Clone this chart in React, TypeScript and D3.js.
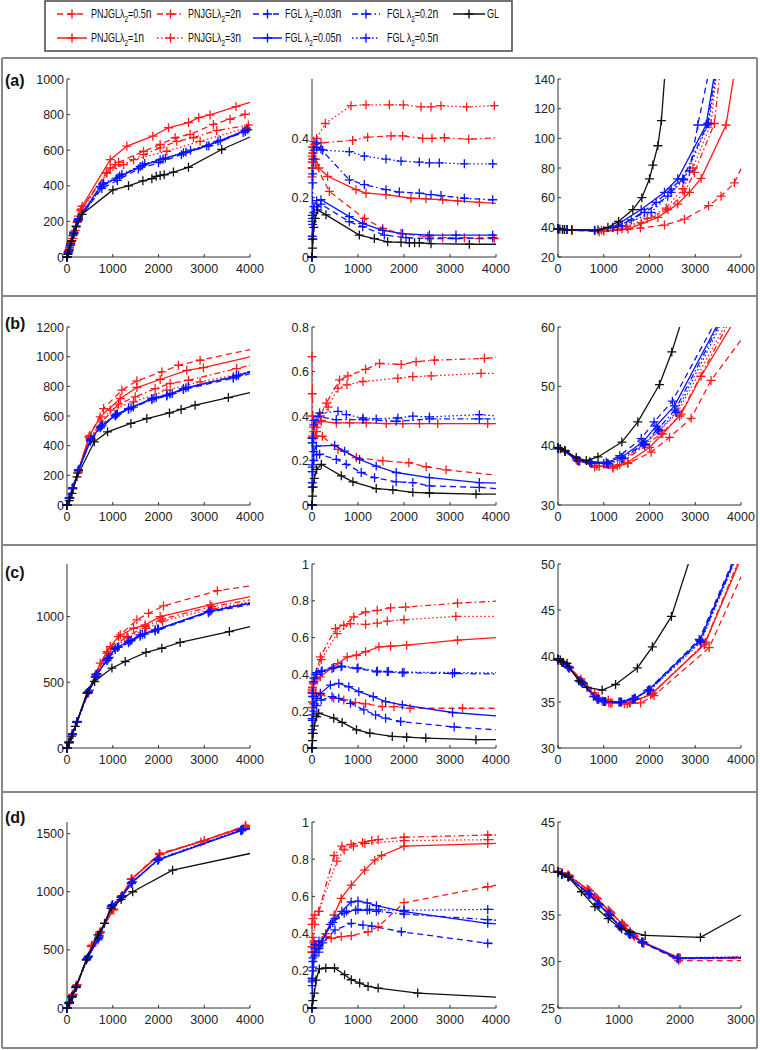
import React from 'react';
import * as d3 from 'd3';

type Pt = [number, number];

// ---------- series meta ----------
const seriesKeys = ['pn05', 'pn1', 'pn2', 'pn3', 'f003', 'f005', 'f02', 'f05', 'gl'];
const legendPrefix = ['PNJGL', 'PNJGL', 'PNJGL', 'PNJGL', 'FGL ', 'FGL ', 'FGL ', 'FGL ', 'GL'];
const legendValue = ['=0.5', '=1', '=2', '=3', '=0.03', '=0.05', '=0.2', '=0.5', ''];
const seriesColor = ['#ff1a1a', '#ff1a1a', '#ff1a1a', '#ff1a1a', '#0a14ff', '#0a14ff', '#0a14ff', '#0a14ff', '#111111'];
const seriesDash = ['6,4', '', '6,3,1.5,3', '1.5,2.5', '6,4', '', '6,3,1.5,3', '1.5,2.5', ''];

// ---------- row (a) ----------
const a1_pn05: Pt[] = [[0,0],[40,35],[100,90],[180,150],[300,265],[858,472],[1055,519],[1127,532],[1673,594],[2036,632],[2364,670],[2691,689],[3200,745],[3564,774],[3891,802],[4000,810]];
const a1_pn1: Pt[] = [[0,0],[30,30],[80,80],[150,140],[250,230],[330,285],[945,547],[1309,623],[1876,679],[2218,726],[2655,755],[2880,783],[3127,798],[3694,845],[4000,868]];
const a1_pn2: Pt[] = [[0,0],[40,35],[100,90],[200,175],[320,270],[945,500],[1236,519],[1673,575],[2036,613],[2400,650],[2764,670],[3273,711],[3964,741],[4000,743]];
const a1_pn3: Pt[] = [[0,0],[50,45],[120,105],[220,195],[310,260],[873,472],[1455,547],[2182,594],[2909,650],[3927,725],[4000,730]];
const a1_f003: Pt[] = [[0,0],[30,28],[80,72],[150,135],[250,210],[760,385],[1100,430],[1560,495],[2000,530],[2500,575],[3100,625],[3850,700],[4000,712]];
const a1_f005: Pt[] = [[0,0],[30,30],[80,75],[150,140],[250,215],[727,396],[1091,443],[1600,509],[2036,547],[2545,585],[3055,623],[3891,711],[4000,723]];
const a1_f02: Pt[] = [[0,0],[25,25],[70,65],[140,130],[240,205],[780,405],[1150,455],[1650,515],[2100,550],[2600,590],[3300,650],[3900,705],[4000,715]];
const a1_f05: Pt[] = [[0,0],[20,20],[60,55],[130,120],[230,200],[800,415],[1200,465],[1700,525],[2150,555],[2700,600],[3350,655],[3950,715],[4000,720]];
const a1_gl: Pt[] = [[0,0],[20,15],[50,40],[100,90],[150,130],[200,170],[330,240],[1003,377],[1345,400],[1658,428],[1855,440],[1950,453],[2036,458],[2124,462],[2327,477],[2655,504],[3382,604],[4000,674]];

const a2_pn05: Pt[] = [[0,0.27],[10,0.3],[30,0.32],[80,0.31],[377,0.221],[1138,0.13],[1536,0.096],[1935,0.079],[2514,0.068],[2841,0.065],[3312,0.065],[3638,0.062],[3964,0.062],[4000,0.062]];
const a2_pn1: Pt[] = [[0,0.3],[10,0.33],[30,0.35],[80,0.33],[150,0.3],[340,0.272],[957,0.227],[1174,0.215],[1609,0.21],[2152,0.198],[2478,0.196],[2841,0.193],[3167,0.189],[3638,0.184],[4000,0.181]];
const a2_pn2: Pt[] = [[0,0.32],[10,0.35],[30,0.37],[60,0.38],[196,0.385],[884,0.393],[1210,0.404],[1717,0.408],[1971,0.408],[2406,0.4],[2609,0.4],[2877,0.402],[3406,0.397],[4000,0.402]];
const a2_pn3: Pt[] = [[0,0.34],[10,0.37],[40,0.39],[100,0.4],[290,0.45],[848,0.51],[1174,0.513],[1681,0.513],[1986,0.513],[2370,0.506],[2587,0.506],[2804,0.51],[3362,0.506],[3964,0.51],[4000,0.51]];
const a2_f003: Pt[] = [[0,0],[5,0.06],[15,0.11],[40,0.15],[100,0.17],[196,0.178],[812,0.119],[1101,0.102],[1572,0.074],[2043,0.065],[2551,0.062],[3130,0.062],[3928,0.065],[4000,0.065]];
const a2_f005: Pt[] = [[0,0],[5,0.07],[15,0.13],[40,0.17],[100,0.19],[196,0.193],[812,0.136],[1101,0.113],[1536,0.09],[1971,0.079],[2551,0.074],[3130,0.074],[3928,0.074],[4000,0.074]];
const a2_f02: Pt[] = [[0,0],[5,0.12],[15,0.25],[40,0.33],[100,0.37],[196,0.363],[812,0.26],[1138,0.244],[1609,0.227],[1899,0.219],[2333,0.215],[2587,0.21],[2804,0.207],[3312,0.198],[3928,0.193],[4000,0.192]];
const a2_f05: Pt[] = [[0,0],[5,0.14],[15,0.28],[40,0.36],[100,0.385],[232,0.36],[812,0.355],[1138,0.34],[1609,0.33],[1935,0.323],[2333,0.32],[2551,0.317],[2768,0.317],[3312,0.314],[3928,0.314],[4000,0.314]];
const a2_gl: Pt[] = [[0,0],[10,0.03],[20,0.06],[40,0.1],[70,0.13],[123,0.159],[304,0.142],[1029,0.074],[1355,0.062],[1645,0.051],[1935,0.049],[2116,0.048],[2230,0.048],[2333,0.048],[2587,0.045],[3420,0.043],[4000,0.043]];

const a3_pn05: Pt[] = [[0,39],[100,38.5],[300,38],[900,37],[1300,38],[1800,39.5],[2327,41.5],[2764,45.5],[3291,54.6],[3564,61],[3855,70],[4000,79.4]];
const a3_pn1: Pt[] = [[0,39],[100,38.5],[300,38],[1000,37.5],[1527,38.8],[2182,46.7],[2618,55.7],[2873,63.6],[3127,73],[3673,109],[3860,145]];
const a3_pn2: Pt[] = [[0,39],[300,38.2],[1000,37.8],[1400,39],[1818,43],[2400,52],[2764,63.6],[2982,77],[3418,110],[3540,145]];
const a3_pn3: Pt[] = [[0,39],[300,38.2],[950,38],[1500,40.5],[1950,46],[2364,53],[2727,66],[2950,80],[3345,110],[3470,145]];
const a3_f003: Pt[] = [[0,39],[200,38.5],[800,38],[1200,40],[1600,45],[2145,56.8],[2473,65.9],[2873,78],[3055,109],[3300,145]];
const a3_f005: Pt[] = [[0,39],[200,38.5],[800,37.8],[1200,40],[1818,52],[2327,63.6],[2618,72.7],[3236,109],[3430,145]];
const a3_f02: Pt[] = [[0,39],[200,38.5],[800,37.8],[1300,40.5],[1891,50],[2400,61],[2727,72.7],[3273,110],[3440,145]];
const a3_f05: Pt[] = [[0,39],[200,38.5],[800,37.8],[1400,41],[2036,50],[2473,63.6],[2750,72],[3290,110],[3470,145]];
const a3_gl: Pt[] = [[0,39],[40,38.8],[100,38.6],[145,38.5],[300,38.3],[873,38.3],[1091,40],[1324,44],[1636,52],[1833,60],[2000,72.7],[2073,82],[2182,95],[2260,112],[2340,145]];

// ---------- row (b) ----------
const b1_pn05: Pt[] = [[0,0],[60,50],[120,110],[230,215],[500,470],[800,650],[1200,774],[1527,837],[2073,897],[2436,942],[2909,976],[4000,1048]];
const b1_pn1: Pt[] = [[0,0],[60,50],[120,110],[230,215],[480,460],[727,594],[1164,718],[1527,792],[2036,846],[2618,908],[2982,926],[4000,998]];
const b1_pn2: Pt[] = [[0,0],[60,50],[130,115],[240,220],[500,450],[760,560],[1127,680],[1491,729],[1927,785],[2255,819],[2655,841],[3709,920],[4000,942]];
const b1_pn3: Pt[] = [[0,0],[60,48],[130,112],[240,218],[520,460],[945,640],[1455,695],[2182,774],[2909,830],[4000,897]];
const b1_f003: Pt[] = [[0,0],[50,45],[120,110],[250,230],[509,430],[727,520],[1055,600],[1345,645],[1855,710],[2182,735],[2545,778],[3636,855],[4000,885]];
const b1_f005: Pt[] = [[0,0],[50,46],[120,112],[250,232],[509,437],[727,527],[1055,606],[1345,650],[1855,718],[2182,740],[2545,785],[3636,864],[4000,897]];
const b1_f02: Pt[] = [[0,0],[50,47],[120,114],[250,235],[520,440],[750,532],[1080,610],[1400,655],[1900,720],[2250,748],[2600,790],[3700,870],[4000,900]];
const b1_f05: Pt[] = [[0,0],[50,48],[120,115],[250,238],[530,445],[770,538],[1100,615],[1450,660],[1950,725],[2300,752],[2650,795],[3750,875],[4000,902]];
const b1_gl: Pt[] = [[0,0],[50,30],[109,78],[218,190],[596,426],[887,493],[1396,550],[1745,583],[2240,621],[2495,644],[2800,673],[3527,724],[4000,758]];

const b2_pn05: Pt[] = [[0,0.3],[10,0.28],[30,0.3],[80,0.31],[224,0.309],[564,0.25],[962,0.213],[1541,0.198],[2105,0.19],[2481,0.172],[2915,0.158],[4000,0.134]];
const b2_pn1: Pt[] = [[0,0.28],[10,0.31],[30,0.35],[80,0.37],[203,0.376],[528,0.369],[817,0.369],[1179,0.369],[1613,0.366],[1975,0.366],[2336,0.366],[2734,0.366],[3819,0.366],[4000,0.366]];
const b2_pn2: Pt[] = [[0,0.667],[5,0.5],[15,0.4],[40,0.33],[100,0.35],[180,0.4],[311,0.458],[600,0.562],[780,0.58],[1164,0.61],[1468,0.636],[1938,0.632],[2264,0.644],[2662,0.651],[3747,0.659],[4000,0.663]];
const b2_pn3: Pt[] = [[0,0.3],[15,0.28],[40,0.3],[100,0.33],[200,0.38],[350,0.44],[564,0.525],[760,0.54],[1107,0.555],[1866,0.57],[2192,0.577],[2590,0.58],[3675,0.592],[4000,0.592]];
const b2_f003: Pt[] = [[0,0],[5,0.08],[15,0.15],[40,0.2],[100,0.225],[166,0.228],[528,0.205],[745,0.183],[1070,0.146],[1360,0.123],[1830,0.104],[2192,0.101],[2553,0.086],[3638,0.079],[4000,0.074]];
const b2_f005: Pt[] = [[0,0],[5,0.1],[15,0.18],[40,0.24],[94,0.265],[492,0.268],[709,0.242],[1034,0.205],[1396,0.175],[1830,0.146],[2553,0.123],[3638,0.101],[4000,0.098]];
const b2_f02: Pt[] = [[0,0],[5,0.15],[15,0.28],[40,0.36],[130,0.398],[528,0.384],[1107,0.384],[1830,0.376],[2553,0.387],[3638,0.387],[4000,0.387]];
const b2_f05: Pt[] = [[0,0],[5,0.17],[15,0.3],[40,0.38],[166,0.413],[564,0.421],[745,0.406],[1107,0.391],[1396,0.387],[1866,0.391],[2192,0.399],[2553,0.396],[3638,0.406],[4000,0.401]];
const b2_gl: Pt[] = [[0,0],[10,0.04],[25,0.08],[50,0.12],[100,0.16],[203,0.183],[637,0.131],[890,0.104],[1396,0.074],[1758,0.068],[2192,0.057],[2553,0.054],[3566,0.049],[4000,0.049]];

const b3_pn05: Pt[] = [[0,39.5],[150,39],[400,37.8],[800,36.4],[1200,36.2],[1527,37],[2036,38.9],[2436,41.4],[2909,44.6],[3345,51],[4000,57.8]];
const b3_pn1: Pt[] = [[0,39.5],[150,39],[400,37.6],[800,36.6],[1200,36.4],[1527,37.2],[2000,39.7],[2291,42],[2691,45.3],[3127,51.7],[3850,61]];
const b3_pn2: Pt[] = [[0,39.5],[150,39],[450,37.5],[850,36.6],[1300,36.6],[1891,40],[2255,42],[2655,45],[3750,61]];
const b3_pn3: Pt[] = [[0,39.5],[150,39],[480,37.4],[900,36.5],[1350,36.8],[1850,40.2],[2230,42.6],[2620,45.7],[3700,61]];
const b3_f003: Pt[] = [[0,39.6],[150,39.1],[436,37.5],[691,37.2],[1000,37],[1350,38.3],[1820,41.2],[2100,44],[2500,47.5],[3450,61]];
const b3_f005: Pt[] = [[0,39.6],[150,39.1],[436,37.5],[691,37.3],[1055,37.2],[1382,38],[1855,40.6],[2145,43.3],[2545,46.7],[3530,61]];
const b3_f02: Pt[] = [[0,39.6],[150,39.1],[450,37.4],[720,37.1],[1080,37],[1400,37.9],[1880,40.3],[2180,42.8],[2560,46],[3560,61]];
const b3_f05: Pt[] = [[0,39.6],[150,39.1],[460,37.4],[740,37],[1100,36.9],[1420,37.8],[1900,40.2],[2200,42.5],[2580,45.6],[3600,61]];
const b3_gl: Pt[] = [[0,39.7],[50,39.5],[145,39.2],[400,38],[618,37.5],[873,38.1],[1396,40.6],[1745,44],[2218,50.3],[2487,55.8],[2700,61]];

// ---------- row (c) ----------
const c1_pn05: Pt[] = [[0,0],[50,45],[120,110],[220,200],[450,420],[650,560],[880,720],[1164,861],[1527,975],[1782,1025],[2109,1081],[3287,1197],[4000,1233]];
const c1_pn1: Pt[] = [[0,0],[50,45],[120,110],[220,200],[450,420],[727,646],[945,772],[1127,848],[1455,911],[1709,937],[2036,1000],[3127,1089],[4000,1152]];
const c1_pn2: Pt[] = [[0,0],[50,45],[120,108],[220,198],[460,420],[620,560],[873,734],[1309,848],[1709,924],[2073,980],[3164,1076],[4000,1127]];
const c1_pn3: Pt[] = [[0,0],[50,44],[120,106],[220,196],[470,420],[640,560],[900,730],[1330,840],[1730,910],[2090,965],[3180,1060],[4000,1110]];
const c1_f003: Pt[] = [[0,0],[50,42],[120,102],[218,195],[451,420],[618,540],[873,665],[1055,750],[1345,800],[1600,850],[1927,890],[3091,1030],[4000,1092]];
const c1_f005: Pt[] = [[0,0],[50,43],[120,104],[218,198],[451,423],[618,544],[873,671],[1055,759],[1345,810],[1600,861],[1927,899],[3091,1038],[4000,1101]];
const c1_f02: Pt[] = [[0,0],[50,44],[120,106],[220,200],[470,430],[640,555],[900,680],[1100,765],[1380,815],[1650,865],[1980,903],[3120,1040],[4000,1104]];
const c1_f05: Pt[] = [[0,0],[50,45],[120,107],[220,202],[490,440],[660,565],[920,690],[1130,770],[1400,818],[1700,868],[2000,905],[3150,1045],[4000,1106]];
const c1_gl: Pt[] = [[0,0],[40,40],[100,90],[182,165],[436,418],[604,506],[982,608],[1273,658],[1727,727],[2073,759],[2473,803],[3549,886],[4000,924]];

const c2_pn05: Pt[] = [[0,0.22],[10,0.25],[30,0.28],[80,0.3],[182,0.29],[473,0.27],[691,0.261],[945,0.247],[1164,0.24],[1527,0.225],[1782,0.225],[2131,0.216],[3273,0.216],[4000,0.216]];
const c2_pn1: Pt[] = [[0,0.3],[10,0.33],[30,0.36],[80,0.37],[182,0.387],[560,0.459],[764,0.495],[967,0.504],[1164,0.523],[1455,0.55],[1709,0.553],[2058,0.559],[3164,0.586],[4000,0.6]];
const c2_pn2: Pt[] = [[0,0.31],[10,0.33],[30,0.35],[80,0.4],[182,0.495],[509,0.649],[691,0.667],[909,0.712],[1164,0.739],[1418,0.748],[1709,0.762],[2036,0.766],[3164,0.787],[4000,0.798]];
const c2_pn3: Pt[] = [[0,0.3],[10,0.32],[30,0.35],[80,0.38],[200,0.48],[545,0.622],[836,0.676],[1164,0.672],[1418,0.679],[1636,0.69],[2000,0.697],[3127,0.715],[4000,0.715]];
const c2_f003: Pt[] = [[0,0],[5,0.08],[15,0.15],[40,0.2],[100,0.23],[200,0.26],[436,0.279],[582,0.27],[836,0.243],[1127,0.207],[1382,0.18],[1600,0.162],[1927,0.144],[3091,0.114],[4000,0.099]];
const c2_f005: Pt[] = [[0,0],[5,0.1],[15,0.18],[40,0.24],[100,0.27],[182,0.297],[400,0.342],[582,0.351],[800,0.333],[1018,0.306],[1331,0.279],[1600,0.252],[1964,0.234],[3055,0.193],[4000,0.175]];
const c2_f02: Pt[] = [[0,0],[5,0.15],[15,0.28],[40,0.36],[100,0.4],[200,0.415],[436,0.432],[633,0.441],[982,0.432],[1404,0.414],[1636,0.414],[1964,0.409],[3055,0.405],[4000,0.402]];
const c2_f05: Pt[] = [[0,0],[5,0.16],[15,0.3],[40,0.38],[100,0.41],[220,0.42],[470,0.438],[650,0.445],[1000,0.436],[1420,0.418],[1660,0.416],[2000,0.412],[3100,0.41],[4000,0.408]];
const c2_gl: Pt[] = [[0,0],[10,0.04],[25,0.08],[50,0.12],[100,0.17],[145,0.189],[473,0.162],[655,0.139],[967,0.099],[1258,0.081],[1745,0.063],[2058,0.059],[2473,0.054],[3564,0.045],[4000,0.045]];

const c3_pn05: Pt[] = [[0,39.6],[100,39.3],[250,38.8],[500,37.5],[800,36],[1100,35.2],[1450,34.8],[1806,34.9],[2099,35.7],[3305,40.9],[4000,48.6]];
const c3_pn1: Pt[] = [[0,39.6],[100,39.3],[250,38.8],[500,37.3],[800,35.8],[1111,34.9],[1514,34.8],[2026,35.8],[3196,41.2],[3990,50.5]];
const c3_pn2: Pt[] = [[0,39.6],[100,39.3],[250,38.7],[520,37.2],[820,35.6],[1150,34.9],[1560,34.9],[2060,35.9],[3210,41.4],[3960,50.5]];
const c3_pn3: Pt[] = [[0,39.6],[100,39.3],[250,38.7],[540,37.1],[840,35.5],[1180,34.9],[1580,34.95],[2080,36],[3230,41.5],[3970,50.5]];
const c3_f003: Pt[] = [[0,39.6],[80,39.3],[200,38.9],[480,37.3],[780,35.6],[965,35.1],[1331,35],[1623,35.3],[1952,36.2],[3086,41.8],[3840,50.5]];
const c3_f005: Pt[] = [[0,39.6],[80,39.3],[220,38.8],[500,37.2],[855,35.3],[1000,35.05],[1350,35],[1650,35.3],[1980,36.3],[3100,41.7],[3860,50.5]];
const c3_f02: Pt[] = [[0,39.6],[90,39.3],[230,38.8],[520,37.1],[870,35.3],[1020,35.05],[1370,35],[1670,35.4],[2000,36.3],[3110,41.6],[3870,50.5]];
const c3_f05: Pt[] = [[0,39.6],[100,39.3],[240,38.7],[540,37],[890,35.3],[1040,35.05],[1390,35],[1690,35.4],[2010,36.3],[3120,41.5],[3880,50.5]];
const c3_gl: Pt[] = [[0,39.7],[50,39.5],[120,39.3],[197,39.2],[453,37.3],[636,36.6],[965,36.3],[1258,36.9],[1733,38.7],[2062,41],[2479,44.3],[2900,50.8]];

// ---------- row (d) ----------
const d1_pn05: Pt[] = [[0,0],[50,45],[120,110],[203,186],[530,529],[711,643],[1002,843],[1183,957],[1401,1106],[2018,1329],[2926,1429],[3905,1571],[4000,1578]];
const d1_pn1: Pt[] = [[0,0],[60,55],[130,120],[220,200],[550,540],[730,655],[1020,850],[1200,965],[1420,1110],[2030,1320],[3900,1556],[4000,1562]];
const d1_pn2: Pt[] = [[0,0],[55,50],[125,115],[210,193],[540,535],[720,650],[1010,846],[1190,960],[1410,1108],[2020,1325],[3000,1440],[3900,1565],[4000,1572]];
const d1_pn3: Pt[] = [[0,0],[55,50],[125,115],[210,193],[545,537],[725,652],[1015,848],[1195,962],[1415,1109],[2025,1322],[3900,1560],[4000,1567]];
const d1_f003: Pt[] = [[0,0],[40,38],[100,92],[190,175],[421,414],[675,586],[966,871],[1183,951],[1401,1071],[1982,1271],[3797,1529],[4000,1545]];
const d1_f005: Pt[] = [[0,0],[45,42],[105,97],[195,180],[440,425],[690,600],[980,880],[1195,955],[1410,1075],[1990,1275],[3810,1525],[4000,1541]];
const d1_f02: Pt[] = [[0,0],[48,44],[110,100],[200,184],[455,435],[700,610],[990,885],[1205,960],[1420,1080],[2000,1280],[3830,1532],[4000,1546]];
const d1_f05: Pt[] = [[0,0],[52,47],[115,104],[205,188],[470,445],[710,620],[1000,890],[1215,965],[1430,1085],[2010,1285],[3850,1540],[4000,1550]];
const d1_gl: Pt[] = [[0,0],[50,45],[110,95],[203,180],[421,414],[675,629],[820,729],[966,857],[1183,934],[1437,1000],[2308,1186],[4000,1329]];

const d2_pn05: Pt[] = [[0,0.3],[10,0.33],[40,0.36],[88,0.33],[307,0.384],[416,0.375],[635,0.384],[854,0.389],[1219,0.41],[1438,0.437],[2000,0.566],[3820,0.652],[4000,0.66]];
const d2_pn1: Pt[] = [[0,0.3],[10,0.33],[40,0.35],[100,0.33],[300,0.4],[480,0.5],[635,0.589],[854,0.661],[1146,0.741],[1365,0.795],[1511,0.82],[2000,0.87],[3820,0.884],[4000,0.885]];
const d2_pn2: Pt[] = [[0,0.45],[20,0.48],[60,0.5],[150,0.52],[480,0.82],[650,0.87],[850,0.88],[1100,0.89],[1300,0.9],[1438,0.905],[2000,0.918],[3820,0.93],[4000,0.93]];
const d2_pn3: Pt[] = [[0,0.33],[20,0.38],[60,0.45],[150,0.52],[540,0.79],[700,0.85],[900,0.87],[1150,0.885],[2000,0.9],[3820,0.905],[4000,0.905]];
const d2_f003: Pt[] = [[0,0],[5,0.12],[20,0.2],[60,0.28],[150,0.3],[234,0.35],[500,0.42],[854,0.455],[1109,0.446],[1300,0.44],[1942,0.41],[3820,0.348],[4000,0.345]];
const d2_f005: Pt[] = [[0,0],[5,0.14],[20,0.22],[60,0.3],[150,0.32],[400,0.45],[650,0.52],[850,0.57],[1000,0.575],[1200,0.565],[1400,0.55],[2000,0.518],[3820,0.455],[4000,0.452]];
const d2_f02: Pt[] = [[0,0],[5,0.15],[20,0.25],[60,0.32],[150,0.34],[450,0.46],[700,0.51],[950,0.525],[1200,0.525],[1400,0.52],[2000,0.505],[3820,0.475],[4000,0.472]];
const d2_f05: Pt[] = [[0,0],[5,0.16],[20,0.27],[60,0.34],[150,0.36],[500,0.48],[750,0.52],[1000,0.53],[1250,0.53],[1450,0.528],[2000,0.525],[3820,0.53],[4000,0.53]];
const d2_gl: Pt[] = [[0,0],[20,0.04],[51,0.08],[88,0.15],[160,0.21],[300,0.215],[489,0.215],[708,0.179],[854,0.152],[1036,0.134],[1219,0.116],[1438,0.107],[2298,0.08],[4000,0.058]];

const d3_pn05: Pt[] = [[0,39.7],[60,39.5],[165,39.3],[495,37.7],[600,37],[824,35.5],[1044,34.1],[1200,33],[1374,32.1],[1978,30.1],[3000,30.1]];
const d3_pn1: Pt[] = [[0,39.7],[60,39.5],[165,39.3],[480,37.8],[620,36.9],[840,35.4],[1060,34],[1220,32.9],[1390,32.1],[1990,30.4],[3000,30.4]];
const d3_pn2: Pt[] = [[0,39.7],[70,39.5],[180,39.2],[510,37.6],[640,36.8],[860,35.3],[1080,33.9],[1240,32.8],[1400,32],[2000,30.3],[3000,30.3]];
const d3_pn3: Pt[] = [[0,39.7],[70,39.5],[190,39.2],[520,37.6],[650,36.7],[870,35.2],[1090,33.8],[1250,32.7],[1410,32],[2005,30.35],[3000,30.35]];
const d3_f003: Pt[] = [[0,39.6],[60,39.4],[165,39.1],[495,37.3],[650,36.2],[824,35.1],[1000,33.8],[1154,33],[1374,32.1],[1951,30.3],[3000,30.4]];
const d3_f005: Pt[] = [[0,39.6],[60,39.4],[170,39.1],[505,37.3],[660,36.2],[835,35.1],[1010,33.8],[1165,33],[1380,32.1],[1960,30.35],[3000,30.45]];
const d3_f02: Pt[] = [[0,39.6],[65,39.4],[175,39.1],[515,37.2],[670,36.1],[845,35],[1020,33.7],[1175,32.9],[1385,32.05],[1965,30.35],[3000,30.45]];
const d3_f05: Pt[] = [[0,39.6],[70,39.4],[180,39.1],[525,37.2],[680,36.1],[855,35],[1030,33.7],[1185,32.9],[1390,32],[1970,30.4],[3000,30.5]];
const d3_gl: Pt[] = [[0,39.6],[60,39.4],[165,39.1],[385,37.5],[604,35.9],[824,34.6],[1044,33.5],[1181,33.2],[1429,32.8],[2335,32.6],[3000,35]];

// ---------- axes ----------
const xTicks4000 = [0, 1000, 2000, 3000, 4000];
const xTicks3000 = [0, 1000, 2000, 3000];
const rowLabels = ['(a)', '(b)', '(c)', '(d)'];

type PanelDef = {
  col: number; row: number;
  xDomain: [number, number]; yDomain: [number, number];
  xTicks: number[]; yTicks: number[];
  series: Pt[][];
};

const panels: PanelDef[] = [
  { col: 0, row: 0, xDomain: [0, 4000], yDomain: [0, 1000], xTicks: xTicks4000, yTicks: [0, 200, 400, 600, 800, 1000], series: [a1_pn05, a1_pn1, a1_pn2, a1_pn3, a1_f003, a1_f005, a1_f02, a1_f05, a1_gl] },
  { col: 1, row: 0, xDomain: [0, 4000], yDomain: [0, 0.6], xTicks: xTicks4000, yTicks: [0, 0.2, 0.4], series: [a2_pn05, a2_pn1, a2_pn2, a2_pn3, a2_f003, a2_f005, a2_f02, a2_f05, a2_gl] },
  { col: 2, row: 0, xDomain: [0, 4000], yDomain: [20, 140], xTicks: xTicks4000, yTicks: [20, 40, 60, 80, 100, 120, 140], series: [a3_pn05, a3_pn1, a3_pn2, a3_pn3, a3_f003, a3_f005, a3_f02, a3_f05, a3_gl] },
  { col: 0, row: 1, xDomain: [0, 4000], yDomain: [0, 1200], xTicks: xTicks4000, yTicks: [0, 200, 400, 600, 800, 1000, 1200], series: [b1_pn05, b1_pn1, b1_pn2, b1_pn3, b1_f003, b1_f005, b1_f02, b1_f05, b1_gl] },
  { col: 1, row: 1, xDomain: [0, 4000], yDomain: [0, 0.8], xTicks: xTicks4000, yTicks: [0, 0.2, 0.4, 0.6, 0.8], series: [b2_pn05, b2_pn1, b2_pn2, b2_pn3, b2_f003, b2_f005, b2_f02, b2_f05, b2_gl] },
  { col: 2, row: 1, xDomain: [0, 4000], yDomain: [30, 60], xTicks: xTicks4000, yTicks: [30, 40, 50, 60], series: [b3_pn05, b3_pn1, b3_pn2, b3_pn3, b3_f003, b3_f005, b3_f02, b3_f05, b3_gl] },
  { col: 0, row: 2, xDomain: [0, 4000], yDomain: [0, 1400], xTicks: xTicks4000, yTicks: [0, 500, 1000], series: [c1_pn05, c1_pn1, c1_pn2, c1_pn3, c1_f003, c1_f005, c1_f02, c1_f05, c1_gl] },
  { col: 1, row: 2, xDomain: [0, 4000], yDomain: [0, 1], xTicks: xTicks4000, yTicks: [0, 0.2, 0.4, 0.6, 0.8, 1], series: [c2_pn05, c2_pn1, c2_pn2, c2_pn3, c2_f003, c2_f005, c2_f02, c2_f05, c2_gl] },
  { col: 2, row: 2, xDomain: [0, 4000], yDomain: [30, 50], xTicks: xTicks4000, yTicks: [30, 35, 40, 45, 50], series: [c3_pn05, c3_pn1, c3_pn2, c3_pn3, c3_f003, c3_f005, c3_f02, c3_f05, c3_gl] },
  { col: 0, row: 3, xDomain: [0, 4000], yDomain: [0, 1600], xTicks: xTicks4000, yTicks: [0, 500, 1000, 1500], series: [d1_pn05, d1_pn1, d1_pn2, d1_pn3, d1_f003, d1_f005, d1_f02, d1_f05, d1_gl] },
  { col: 1, row: 3, xDomain: [0, 4000], yDomain: [0, 1], xTicks: xTicks4000, yTicks: [0, 0.2, 0.4, 0.6, 0.8, 1], series: [d2_pn05, d2_pn1, d2_pn2, d2_pn3, d2_f003, d2_f005, d2_f02, d2_f05, d2_gl] },
  { col: 2, row: 3, xDomain: [0, 3000], yDomain: [25, 45], xTicks: xTicks3000, yTicks: [25, 30, 35, 40, 45], series: [d3_pn05, d3_pn1, d3_pn2, d3_pn3, d3_f003, d3_f005, d3_f02, d3_f05, d3_gl] },
];

// layout
const colX: [number, number][] = [[67, 250], [312, 496], [558, 741]];
const rowY: [number, number][] = [[79, 257], [327, 505], [564, 748], [822, 1008]];
const rowLabelY = [86, 329, 578, 823];
const rowBorders = [58, 296, 545, 792, 1048];

const FONT = '"Liberation Sans", Arial, Helvetica, sans-serif';
const AXIS = '#333';

function plus(x: number, y: number, r = 4.5) {
  return `M${x - r},${y}H${x + r}M${x},${y - r}V${y + r}`;
}

function Panel({ p, idx }: { p: PanelDef; idx: number }) {
  const [x0, x1] = colX[p.col];
  const [y0, y1] = rowY[p.row];
  const xs = d3.scaleLinear().domain(p.xDomain).range([x0, x1]);
  const ys = d3.scaleLinear().domain(p.yDomain).range([y1, y0]);
  const line = d3.line<Pt>().x(d => xs(d[0])).y(d => ys(d[1]));
  const clipId = `clip${idx}`;
  const fmt = (v: number) => String(v);
  return (
    <g>
      <defs>
        <clipPath id={clipId}>
          <rect x={x0} y={y0} width={x1 - x0 + 1} height={y1 - y0} />
        </clipPath>
      </defs>
      {/* axes */}
      <line x1={x0} x2={x0} y1={y0} y2={y1} stroke={AXIS} strokeWidth={1} />
      <line x1={x0} x2={x1} y1={y1} y2={y1} stroke={AXIS} strokeWidth={1} />
      {p.yTicks.map(t => (
        <g key={'y' + t}>
          <line x1={x0} x2={x0 + 3} y1={ys(t)} y2={ys(t)} stroke={AXIS} />
          <text x={x0 - 3} y={ys(t) + 4.5} textAnchor="end" fontSize={12.5} fill="#222" fontFamily={FONT}>{fmt(t)}</text>
        </g>
      ))}
      {p.xTicks.map(t => (
        <g key={'x' + t}>
          <line x1={xs(t)} x2={xs(t)} y1={y1} y2={y1 - 3} stroke={AXIS} />
          <text x={xs(t)} y={y1 + 15.5} textAnchor="middle" fontSize={12.5} fill="#222" fontFamily={FONT}>{fmt(t)}</text>
        </g>
      ))}
      {/* series */}
      {p.series.map((s, i) => (
        <g key={seriesKeys[i]}>
          <path d={line(s) || ''} fill="none" stroke={seriesColor[i]} strokeWidth={1.3}
            strokeDasharray={seriesDash[i] || undefined} clipPath={`url(#${clipId})`} />
          <path
            d={s.filter(d => d[0] < p.xDomain[1] - 1 && d[1] <= p.yDomain[1] + 1e-9 && d[1] >= p.yDomain[0])
              .map(d => plus(xs(d[0]), ys(d[1]))).join('')}
            fill="none" stroke={seriesColor[i]} strokeWidth={1.3} />
        </g>
      ))}
    </g>
  );
}

// legend layout
const legendCol = [0, 0, 1, 1, 2, 2, 3, 3, 4];
const legendRow = [0, 1, 0, 1, 0, 1, 0, 1, 0];
const legendLineX: [number, number][] = [[57, 87], [157, 184], [253, 282], [352, 380], [453, 485]];
const legendTextX = [91, 188, 285, 387, 487];
const legendRowY = [14, 38];

function Legend() {
  return (
    <g>
      <rect x={45} y={1} width={467} height={50} fill="#fff" stroke="#444" strokeWidth={1.5} />
      {seriesKeys.map((k, i) => {
        const c = legendCol[i];
        const y = legendRowY[legendRow[i]];
        const [lx0, lx1] = legendLineX[c];
        const tx = legendTextX[c];
        return (
          <g key={k}>
            <line x1={lx0} x2={lx1} y1={y} y2={y} stroke={seriesColor[i]} strokeWidth={1.5}
              strokeDasharray={seriesDash[i] || undefined} />
            <path d={plus((lx0 + lx1) / 2, y, 4.5)} stroke={seriesColor[i]} strokeWidth={1.4} fill="none" />
            <g transform={`translate(${tx},${y + 4}) scale(0.72,1)`}>
              {i === 8 ? (
                <text x={0} y={0} fontSize={12.5} fontFamily={FONT} fill="#111">GL</text>
              ) : (
                <text x={0} y={0} fontSize={12.5} fontFamily={FONT} fill="#111">
                  {legendPrefix[i]}λ
                  <tspan dy={3.5} fontSize={9}>2</tspan>
                  <tspan dy={-3.5}>{legendValue[i]}</tspan>
                  <tspan fontSize={14.5}>n</tspan>
                </text>
              )}
            </g>
          </g>
        );
      })}
    </g>
  );
}

export default function App() {
  return (
    <svg width={760} height={1050} style={{ position: 'absolute', left: 0, top: 0, background: '#fff' }}
      xmlns="http://www.w3.org/2000/svg">
      <rect x={0} y={0} width={760} height={1050} fill="#fff" />
      {/* row frames */}
      <line x1={2} x2={2} y1={rowBorders[0]} y2={rowBorders[4]} stroke="#888" strokeWidth={2} />
      <line x1={757} x2={757} y1={rowBorders[0]} y2={rowBorders[4]} stroke="#888" strokeWidth={2} />
      {rowBorders.map((y, i) => (
        <line key={i} x1={2} x2={757} y1={y} y2={y} stroke="#888" strokeWidth={2} />
      ))}
      <Legend />
      {rowLabels.map((l, i) => (
        <text key={l} x={5} y={rowLabelY[i]} fontSize={16} fontWeight="bold" fontFamily={FONT} fill="#111">{l}</text>
      ))}
      {panels.map((p, i) => <Panel key={i} p={p} idx={i} />)}
    </svg>
  );
}
